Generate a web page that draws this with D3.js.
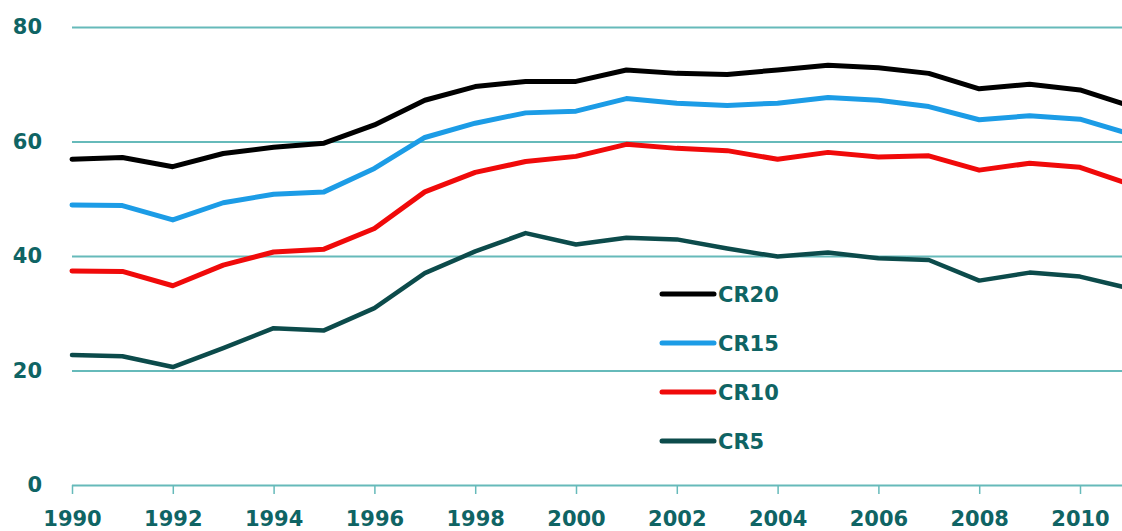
<!DOCTYPE html>
<html>
<head>
<meta charset="utf-8">
<script src="https://cdn.jsdelivr.net/npm/d3@7"></script>
<style>
  html, body { margin: 0; padding: 0; background: #ffffff; }
  svg { display: block; }
  text { font-family: "DejaVu Sans", Verdana, sans-serif; font-weight: bold; }
</style>
</head>
<body>
<svg id="chart" width="1122" height="531"></svg>
<script>
const years = [1990,1991,1992,1993,1994,1995,1996,1997,1998,1999,2000,2001,2002,2003,2004,2005,2006,2007,2008,2009,2010,2011];
const cr20 = [56.9,57.2,55.6,57.9,59.0,59.7,62.9,67.2,69.6,70.5,70.5,72.5,71.9,71.7,72.5,73.3,72.9,71.9,69.2,70.0,69.0,66.2];
const cr15 = [48.9,48.8,46.3,49.3,50.8,51.2,55.3,60.7,63.2,65.0,65.3,67.5,66.7,66.3,66.7,67.7,67.2,66.1,63.8,64.5,63.9,61.3];
const cr10 = [37.4,37.3,34.8,38.4,40.7,41.2,44.8,51.2,54.6,56.5,57.4,59.5,58.8,58.4,56.9,58.1,57.3,57.5,55.0,56.2,55.5,52.5];
const cr5  = [22.7,22.5,20.6,23.9,27.4,27.0,30.9,37.0,40.8,44.0,42.0,43.2,42.9,41.3,39.9,40.6,39.6,39.3,35.7,37.1,36.4,34.3];
const seriesNames = ["CR20","CR15","CR10","CR5"];
const seriesColors = ["#000000","#1c9ce6","#f00a0a","#0c4b4b"];
const seriesValues = [cr20, cr15, cr10, cr5];
const yTicks = [0,20,40,60,80];
const xTicks = [1990,1992,1994,1996,1998,2000,2002,2004,2006,2008,2010];

const W = 1122, H = 531;
const svg = d3.select("#chart");
const x = d3.scaleLinear().domain([1990, 2010]).range([72, 1080]);
const y = d3.scaleLinear().domain([0, 80]).range([485, 27]);
const textColor = "#0f6464";
const gridColor = "#66baba";

// gridlines + y labels
const yAxis = d3.axisLeft(y).tickValues(yTicks).tickSize(-(W - 72)).tickPadding(30).tickFormat(d3.format("d"));
const gy = svg.append("g").attr("transform", "translate(72,0)").call(yAxis);
gy.select(".domain").remove();
gy.selectAll(".tick line").attr("stroke", gridColor).attr("stroke-width", 2);
gy.selectAll(".tick text").attr("fill", textColor).style("font-size", "21px").style("font-weight", "bold")
  .style("font-family", '"DejaVu Sans", sans-serif');

// x axis ticks + labels
const xAxis = d3.axisBottom(x).tickValues(xTicks).tickSize(9).tickPadding(17).tickFormat(d3.format("d"));
const gx = svg.append("g").attr("transform", "translate(0,485)").call(xAxis);
gx.select(".domain").remove();
gx.selectAll(".tick line").attr("stroke", gridColor).attr("stroke-width", 1.5);
gx.selectAll(".tick text").attr("fill", textColor).style("font-size", "21px").style("font-weight", "bold")
  .style("font-family", '"DejaVu Sans", sans-serif');

// lines
const line = d3.line().x((d, i) => x(years[i])).y(d => y(d)).curve(d3.curveLinear);
seriesValues.forEach((vals, k) => {
  svg.append("path")
    .datum(vals)
    .attr("d", line)
    .attr("fill", "none")
    .attr("stroke", seriesColors[k])
    .attr("stroke-width", k === 3 ? 4.5 : 5)
    .attr("stroke-linejoin", "round")
    .attr("stroke-linecap", "round");
});

// legend
const legend = svg.append("g");
seriesNames.forEach((name, k) => {
  const cy = 294 + k * 49;
  legend.append("line")
    .attr("x1", 662).attr("x2", 714).attr("y1", cy).attr("y2", cy)
    .attr("stroke", seriesColors[k]).attr("stroke-width", 5).attr("stroke-linecap", "round");
  legend.append("text")
    .attr("x", 718).attr("y", cy).attr("dy", "0.36em")
    .attr("fill", textColor).style("font-size", "21px")
    .text(name);
});
</script>
</body>
</html>
